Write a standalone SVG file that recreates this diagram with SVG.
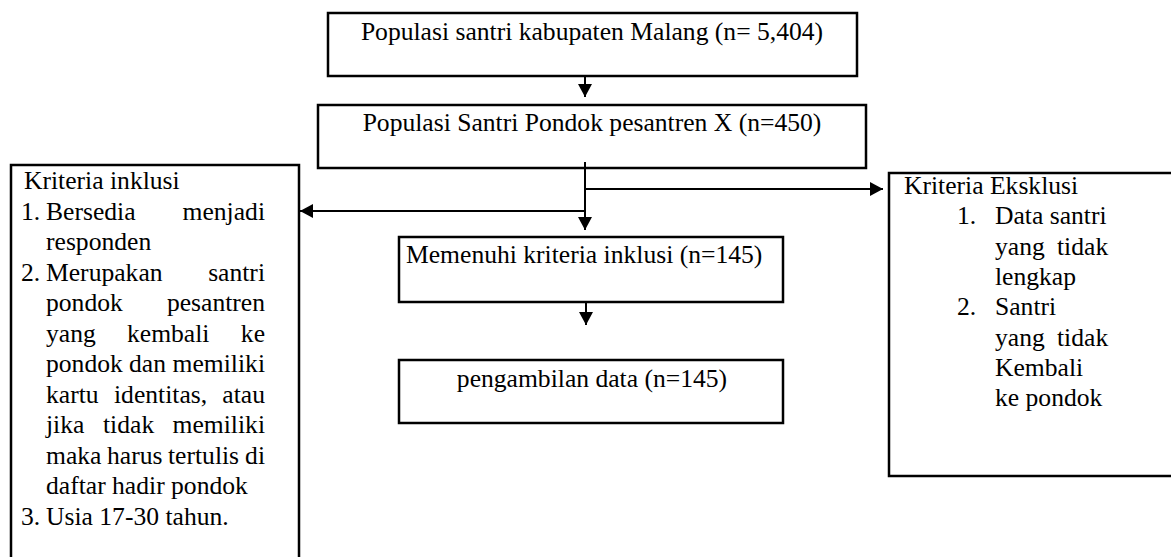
<svg xmlns="http://www.w3.org/2000/svg" width="1171" height="557" viewBox="0 0 1171 557">
<style>
text{font-family:"Liberation Serif","DejaVu Serif",serif;font-size:25.6px;fill:#000}
.box{fill:#fff;stroke:#000;stroke-width:2.5}
.c{text-anchor:middle}
.e{text-anchor:end}
.ln{stroke:#000;stroke-width:2;fill:none;marker-end:url(#ah)}
</style>
<defs>
<marker id="ah" markerUnits="userSpaceOnUse" markerWidth="14" markerHeight="14" refX="13" refY="7" orient="auto">
<path d="M0,0 L13,7 L0,14 z" fill="#000"/>
</marker>
</defs>
<rect width="1171" height="557" fill="#fff"/>
<g id="n1"><rect class="box" x="328" y="13" width="529" height="63"/><text class="c" x="592" y="40">Populasi santri kabupaten Malang (n= 5,404)</text></g>
<g id="n2"><rect class="box" x="318" y="105" width="548" height="63"/><text class="c" x="592" y="131">Populasi Santri Pondok pesantren X (n=450)</text></g>
<g id="n3"><rect class="box" x="399" y="237" width="384" height="65"/><text x="406" y="263">Memenuhi kriteria inklusi (n=145)</text></g>
<g id="n4"><rect class="box" x="399" y="360" width="384" height="63"/><text class="c" x="592" y="387">pengambilan data (n=145)</text></g>
<g id="inc">
<rect class="box" x="11" y="165" width="288" height="400"/>
<text x="24" y="189">Kriteria inklusi</text>
<text x="21" y="220">1.</text><text x="46" y="220">Bersedia</text><text class="e" x="265" y="220">menjadi</text>
<text x="46" y="250">responden</text>
<text x="21" y="281">2.</text><text x="46" y="281">Merupakan</text><text class="e" x="265" y="281">santri</text>
<text x="46" y="311">pondok</text><text class="e" x="265" y="311">pesantren</text>
<text x="46" y="342">yang</text><text x="127" y="342">kembali</text><text class="e" x="265" y="342">ke</text>
<text x="46" y="372">pondok</text><text x="129" y="372">dan</text><text class="e" x="265" y="372">memiliki</text>
<text x="46" y="403">kartu</text><text x="114" y="403">identitas,</text><text class="e" x="265" y="403">atau</text>
<text x="46" y="433">jika</text><text x="103" y="433">tidak</text><text class="e" x="265" y="433">memiliki</text>
<text x="46" y="464">maka</text><text x="107" y="464">harus</text><text x="168" y="464">tertulis</text><text class="e" x="265" y="464">di</text>
<text x="46" y="494">daftar hadir pondok</text>
<text x="21" y="525">3.</text><text x="46" y="525">Usia 17-30 tahun.</text>
</g>
<g id="exc">
<rect class="box" x="889" y="173" width="290" height="303"/>
<text x="904" y="194">Kriteria Eksklusi</text>
<text x="957" y="224">1.</text><text x="995" y="224">Data santri</text>
<text x="995" y="255">yang</text><text x="1057" y="255">tidak</text>
<text x="995" y="285">lengkap</text>
<text x="957" y="315">2.</text><text x="995" y="315">Santri</text>
<text x="995" y="346">yang</text><text x="1057" y="346">tidak</text>
<text x="995" y="376">Kembali</text>
<text x="995" y="406">ke pondok</text>
</g>
<g id="connectors">
<line class="ln" x1="585" y1="76" x2="585" y2="97"/>
<line stroke="#000" stroke-width="2" x1="585" y1="162" x2="585" y2="212"/>
<line class="ln" x1="585" y1="212" x2="585" y2="230"/>
<line class="ln" x1="585" y1="189" x2="883" y2="189"/>
<line class="ln" x1="586" y1="211" x2="300" y2="211"/>
<line class="ln" x1="586" y1="302" x2="586" y2="325"/>
</g>
</svg>
